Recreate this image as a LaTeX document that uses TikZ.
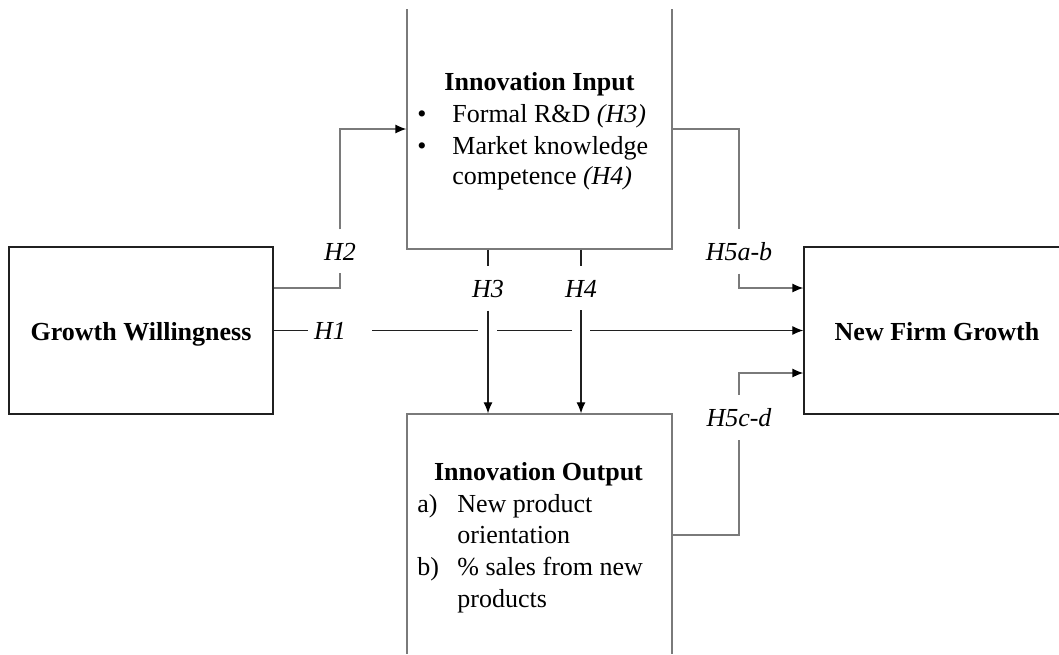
\documentclass[tikz,border=0pt]{standalone}
\usepackage{fontspec}
\setmainfont{Liberation Serif}
\usetikzlibrary{arrows.meta,calc}
\definecolor{lgray}{HTML}{7A7A7A}
\definecolor{dline}{HTML}{202020}
\begin{document}
\begin{tikzpicture}[x=0.5pt,y=-0.5pt,
  fnt/.style={font=\fontsize{13}{15.6}\selectfont},
  boxk/.style={draw=dline, line width=0.65pt, rectangle, inner sep=0pt},
  boxg/.style={draw=lgray, line width=0.65pt, rectangle, inner sep=0pt},
  tx/.style={fnt, inner sep=0pt, anchor=base west},
  ctx/.style={fnt, inner sep=0pt, anchor=base},
  lab/.style={fnt, font=\fontsize{13}{15.6}\selectfont\itshape, inner xsep=0pt, inner ysep=6.5pt, anchor=base},
  gline/.style={draw=lgray, line width=0.65pt},
  kline/.style={draw=dline, line width=0.6pt},
  arr/.style={-{Latex[length=5.5pt,width=4.5pt,color=black]}}
]
\useasboundingbox (0,0) rectangle (1059,654);
\fill[white] (0,0) rectangle (1059,654);
\begin{scope}
  \clip (0,9) rectangle (1059,653);
  \node[boxk, minimum width=132pt, minimum height=83.5pt] (gw) at (141,330.5) {};
  \node[boxk, minimum width=133pt, minimum height=83.5pt] (nfg) at (937,330.5) {};
  \node[boxg, minimum width=132.5pt, minimum height=130pt] (ii) at (539.5,119) {};
  \node[boxg, minimum width=132.5pt, minimum height=130pt] (io) at (539.5,544) {};
\end{scope}

% box texts
\node[ctx] (gwt) at (141,340) {\bfseries Growth Willingness};
\node[ctx] (nfgt) at (937,340) {\bfseries New Firm Growth};

\node[ctx] (iit) at (539.5,90) {\bfseries Innovation Input};
\node[ctx] (iib1) at (422,122) {•};
\node[tx] (iil1) at (452,122) {Formal R\&D \textit{(H3)}};
\node[ctx] (iib2) at (422,154) {•};
\node[tx] (iil2) at (452,154) {Market knowledge};
\node[tx] (iil3) at (452,184) {competence \textit{(H4)}};

\node[ctx] (iot) at (538.5,480) {\bfseries Innovation Output};
\node[tx] (ioa) at (417,512) {a)};
\node[tx] (iol1) at (457,512) {New product};
\node[tx] (iol2) at (457,543) {orientation};
\node[tx] (iob) at (417,575) {b)};
\node[tx] (iol3) at (457,575) {\% sales from new};
\node[tx] (iol4) at (457,607) {products};

% labels
\node[lab] (h1) at (330,339) {H1};
\node[lab] (h2) at (340,260) {H2};
\node[lab] (h3) at (488,297) {H3};
\node[lab] (h4) at (581,297) {H4};
\node[lab] (h5ab) at (739,260) {H5a-b};
\node[lab] (h5cd) at (739,426) {H5c-d};

% H2
\draw[gline] (gw.east |- 0,288) -| (h2.south);
\draw[gline, arr] (h2.north) |- (ii.west |- 0,129);
% H3, H4
\draw[kline] (ii.south -| h3) -- (h3.north);
\draw[kline, arr] (h3.south) -- (io.north -| h3);
\draw[kline] (ii.south -| h4) -- (h4.north);
\draw[kline, arr] (h4.south) -- (io.north -| h4);
% H1
\draw[kline] (gw.east) -- ($(h1.west |- gw.east)+(-6,0)$);
\draw[kline] ($(h1.east |- gw.east)+(26,0)$) -- ($(h3.center |- gw.east)+(-10,0)$);
\draw[kline] ($(h3.center |- gw.east)+(9,0)$) -- ($(h4.center |- gw.east)+(-9,0)$);
\draw[kline, arr] ($(h4.center |- gw.east)+(9,0)$) -- (nfg.west);
% H5a-b
\draw[gline] (ii.east |- 0,129) -| (h5ab.north);
\draw[gline, arr] (h5ab.south) |- (nfg.west |- 0,288);
% H5c-d
\draw[gline] (io.east |- 0,535) -| (h5cd.south);
\draw[gline, arr] (h5cd.north) |- (nfg.west |- 0,373);
\end{tikzpicture}
\end{document}
